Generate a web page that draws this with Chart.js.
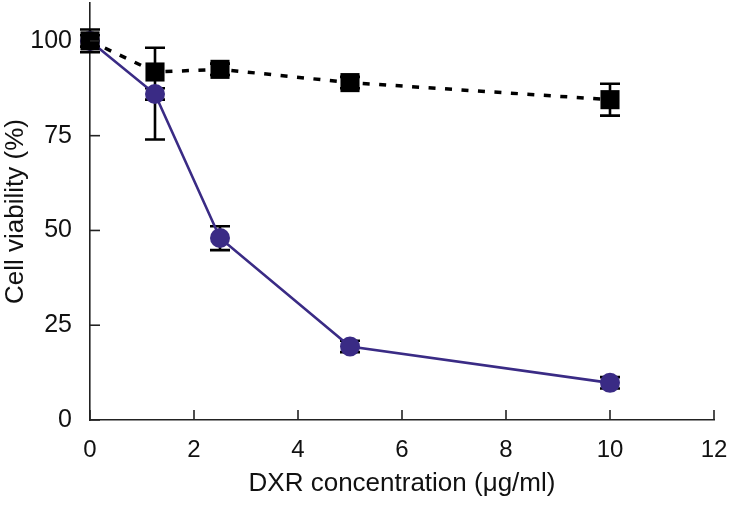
<!DOCTYPE html>
<html>
<head>
<meta charset="utf-8">
<script src="https://cdn.jsdelivr.net/npm/chart.js@4.4.1/dist/chart.umd.min.js"></script>
<style>
  html, body { margin: 0; padding: 0; background: #fff; }
  #wrap { width: 731px; height: 508px; }
</style>
</head>
<body>
<div id="wrap"><canvas id="c" width="731" height="508"></canvas></div>
<script>
// ---- data ----
const concentrations = [0, 1.25, 2.5, 5, 10];
const controlViability = [100, 91.8, 92.5, 89, 84.5];
const controlErrUp = [3, 6.4, 1.5, 1.5, 4.2];
const controlErrDown = [3, 17.8, 1.5, 1.5, 4.2];
const dxrViability = [100, 86, 48, 19.4, 9.8];
const dxrErrUp = [1.5, 1.5, 3.1, 1.5, 1.5];
const dxrErrDown = [1.5, 1.5, 3.2, 1.5, 1.5];
const xTicks = [0, 2, 4, 6, 8, 10, 12];
const yTicks = [0, 25, 50, 75, 100];

const FONT = "'Liberation Sans', Arial, Helvetica, sans-serif";
const PURPLE = '#3a2b85';

function pts(xs, ys) { return xs.map((x, i) => ({ x: x, y: ys[i] })); }

const errorBars = {
  id: 'errorBars',
  beforeDatasetsDraw(chart) {
    const ctx = chart.ctx;
    const xs = chart.scales.x, ys = chart.scales.y;
    const sets = [
      { v: controlViability, up: controlErrUp, dn: controlErrDown },
      { v: dxrViability, up: dxrErrUp, dn: dxrErrDown }
    ];
    ctx.save();
    ctx.strokeStyle = '#000';
    ctx.lineWidth = 2.6;
    ctx.lineCap = 'butt';
    sets.forEach(s => {
      concentrations.forEach((c, i) => {
        const px = xs.getPixelForValue(c);
        const top = ys.getPixelForValue(s.v[i] + s.up[i]);
        const bot = ys.getPixelForValue(s.v[i] - s.dn[i]);
        ctx.beginPath();
        ctx.moveTo(px, top); ctx.lineTo(px, bot);
        ctx.moveTo(px - 10, top); ctx.lineTo(px + 10, top);
        ctx.moveTo(px - 10, bot); ctx.lineTo(px + 10, bot);
        ctx.stroke();
      });
    });
    ctx.restore();
  }
};

const inwardTicks = {
  id: 'inwardTicks',
  afterDraw(chart) {
    const ctx = chart.ctx;
    const xs = chart.scales.x, ys = chart.scales.y;
    const a = chart.chartArea;
    ctx.save();
    ctx.strokeStyle = '#222';
    ctx.lineWidth = 1.6;
    ys.ticks.forEach(t => {
      const py = ys.getPixelForValue(t.value);
      ctx.beginPath(); ctx.moveTo(a.left, py); ctx.lineTo(a.left + 10, py); ctx.stroke();
    });
    xs.ticks.forEach(t => {
      const px = xs.getPixelForValue(t.value);
      ctx.beginPath(); ctx.moveTo(px, a.bottom); ctx.lineTo(px, a.bottom - 10); ctx.stroke();
    });
    ctx.restore();
  }
};

function zeroPad(s) { s.paddingTop = 0; s.paddingBottom = 0; s.paddingLeft = 0; s.paddingRight = 0; }

new Chart(document.getElementById('c'), {
  type: 'scatter',
  data: {
    datasets: [
      {
        label: 'Control',
        data: pts(concentrations, controlViability),
        showLine: true,
        borderColor: '#000',
        backgroundColor: '#000',
        borderWidth: 3.5,
        borderDash: [7, 9.5],
        pointStyle: 'rect',
        pointRadius: 13.5,
        pointBorderWidth: 0,
        pointBackgroundColor: '#000',
        tension: 0,
        clip: false
      },
      {
        label: 'DXR',
        data: pts(concentrations, dxrViability),
        showLine: true,
        borderColor: PURPLE,
        backgroundColor: PURPLE,
        borderWidth: 2.6,
        pointStyle: 'circle',
        pointRadius: 10,
        pointBorderWidth: 0,
        pointBackgroundColor: PURPLE,
        tension: 0,
        clip: false
      }
    ]
  },
  options: {
    responsive: false,
    animation: false,
    events: [],
    layout: { autoPadding: false, padding: { left: 0, right: 17, top: 3, bottom: 0 } },
    plugins: { legend: { display: false }, tooltip: { enabled: false } },
    scales: {
      x: {
        type: 'linear',
        min: 0, max: 12,
        afterFit(s) { s.height = 88; zeroPad(s); },
        afterBuildTicks(s) { s.ticks = xTicks.map(v => ({ value: v })); },
        grid: { display: false, drawTicks: false },
        border: { display: true, color: '#222', width: 1.6 },
        ticks: { color: '#111', padding: 16, font: { family: FONT, size: 24 } },
        title: {
          display: true,
          text: 'DXR concentration (μg/ml)',
          color: '#111',
          font: { family: FONT, size: 26 },
          padding: { top: 0, bottom: 9 }
        }
      },
      y: {
        min: 0, max: 110,
        afterFit(s) { s.width = 90; zeroPad(s); },
        afterBuildTicks(s) { s.ticks = yTicks.map(v => ({ value: v })); },
        grid: { display: false, drawTicks: false },
        border: { display: true, color: '#222', width: 1.6 },
        ticks: { color: '#111', padding: 18, font: { family: FONT, size: 25 } },
        title: {
          display: true,
          text: 'Cell viability (%)',
          color: '#111',
          font: { family: FONT, size: 26 },
          padding: { top: 0, bottom: 0 }
        }
      }
    }
  },
  plugins: [errorBars, inwardTicks]
});
</script>
</body>
</html>
